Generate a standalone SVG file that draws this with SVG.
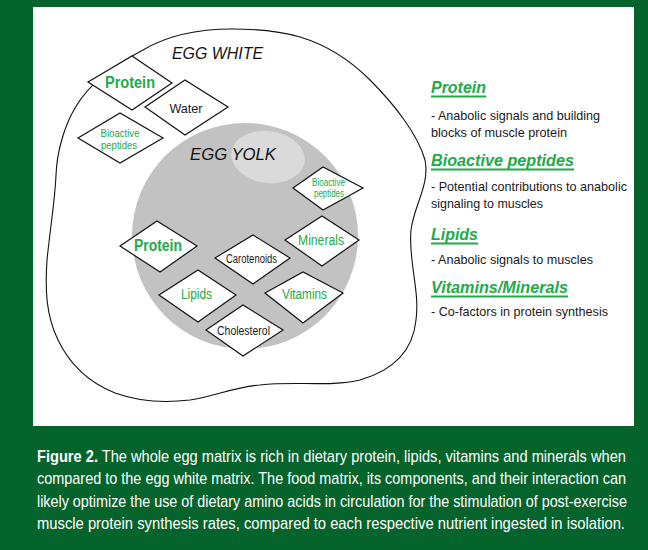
<svg xmlns="http://www.w3.org/2000/svg" width="648" height="550" viewBox="0 0 648 550">
<style>
.dia{fill:#fff;stroke:#111;stroke-width:1.2;stroke-linejoin:miter}
.g{fill:#22AA4A;font-family:"Liberation Sans",Arial,sans-serif}
.k{fill:#1a1a1a;font-family:"Liberation Sans",Arial,sans-serif}
.b{font-weight:bold}
.h{fill:#22AA4A;font-family:"Liberation Sans",Arial,sans-serif;font-weight:bold;font-style:italic;font-size:17px}
.body{fill:#1a1a1a;font-family:"Liberation Sans",Arial,sans-serif;font-size:13px}
.cap{fill:#fff;font-family:"Liberation Sans",Arial,sans-serif;font-size:16px}
.ul{stroke:#22AA4A;stroke-width:2}
.lbl{fill:#111;font-family:"Liberation Sans",Arial,sans-serif;font-style:italic;font-size:16px}
</style>
<rect x="0" y="0" width="648" height="550" fill="#05632C"/>
<rect x="33" y="7" width="601" height="419" fill="#fff"/>

<g id="egg-white">
<path d="M143,50 C170,34 200,29 232,29 C260,29 283,32 300,37 C330,46 352,62 370,80 C395,105 418,135 425,160 C430,185 414,205 411,230 C408,260 420,290 416,320 C413,350 395,370 360,380 C330,387 295,381 260,385 C235,387 215,396 190,400 C165,403 140,402 115,393 C90,383 70,365 58,340 C46,315 45,290 47,260 C50,230 55,200 56,175 C57,150 65,125 75,108 C90,82 115,65 143,50 Z" fill="none" stroke="#111" stroke-width="1.1"/>
<text class="lbl" x="172" y="59" textLength="91" lengthAdjust="spacingAndGlyphs">EGG WHITE</text>
</g>

<g id="egg-yolk">
<circle cx="245" cy="236" r="113" fill="#C2C2C2"/>
<ellipse cx="268" cy="157" rx="37" ry="26" fill="#DADADA" transform="rotate(8 268 157)"/>
<text class="lbl" x="190" y="160" textLength="86" lengthAdjust="spacingAndGlyphs">EGG YOLK</text>
</g>

<g id="white-protein">
<polygon class="dia" points="88,82 132,56 172,83 132,110"/>
<text class="g b" x="130" y="88" font-size="16" text-anchor="middle" textLength="50" lengthAdjust="spacingAndGlyphs">Protein</text>
</g>
<g id="white-water">
<polygon class="dia" points="145,107 185,80 228,107 185,135"/>
<text class="k" x="186" y="113" font-size="13" text-anchor="middle" textLength="33" lengthAdjust="spacingAndGlyphs">Water</text>
</g>
<g id="white-bioactive">
<polygon class="dia" points="78,138 120,113 163,138 120,163"/>
<text class="g" x="120" y="137" font-size="11" text-anchor="middle" textLength="39" lengthAdjust="spacingAndGlyphs">Bioactive</text>
<text class="g" x="119" y="149" font-size="11" text-anchor="middle" textLength="36" lengthAdjust="spacingAndGlyphs">peptides</text>
</g>

<g id="yolk-bioactive">
<polygon class="dia" points="293,188 323,167 363,188 323,210"/>
<text class="g" x="328.5" y="186" font-size="10" text-anchor="middle" textLength="33" lengthAdjust="spacingAndGlyphs">Bioactive</text>
<text class="g" x="329" y="197" font-size="10" text-anchor="middle" textLength="30" lengthAdjust="spacingAndGlyphs">peptides</text>
</g>
<g id="yolk-protein">
<polygon class="dia" points="120,246 157,221 197,246 160,272"/>
<text class="g b" x="158" y="251" font-size="16" text-anchor="middle" textLength="48" lengthAdjust="spacingAndGlyphs">Protein</text>
</g>
<g id="yolk-minerals">
<polygon class="dia" points="285,240 322,216 359,240 322,266"/>
<text class="g" x="321" y="245" font-size="14" text-anchor="middle" textLength="46" lengthAdjust="spacingAndGlyphs">Minerals</text>
</g>
<g id="yolk-carotenoids">
<polygon class="dia" points="215,258 253,235 290,258 253,284"/>
<text class="k" x="251.5" y="263" font-size="12" text-anchor="middle" textLength="51" lengthAdjust="spacingAndGlyphs">Carotenoids</text>
</g>
<g id="yolk-lipids">
<polygon class="dia" points="159,295 198,270 236,295 198,322"/>
<text class="g" x="196.5" y="299" font-size="14" text-anchor="middle" textLength="31" lengthAdjust="spacingAndGlyphs">Lipids</text>
</g>
<g id="yolk-vitamins">
<polygon class="dia" points="265,293 303,272 343,293 303,323"/>
<text class="g" x="304.5" y="299" font-size="14" text-anchor="middle" textLength="45" lengthAdjust="spacingAndGlyphs">Vitamins</text>
</g>
<g id="yolk-cholesterol">
<polygon class="dia" points="206,330 243,305 283,330 243,356"/>
<text class="k" x="243.5" y="335" font-size="12" text-anchor="middle" textLength="53" lengthAdjust="spacingAndGlyphs">Cholesterol</text>
</g>

<g id="legend">
<text class="h" x="431" y="93" textLength="55" lengthAdjust="spacingAndGlyphs">Protein</text>
<line class="ul" x1="431" y1="96.5" x2="486" y2="96.5"/>
<text class="body" x="431" y="120" textLength="169" lengthAdjust="spacingAndGlyphs">- Anabolic signals and building</text>
<text class="body" x="431" y="137" textLength="136" lengthAdjust="spacingAndGlyphs">blocks of muscle protein</text>

<text class="h" x="431" y="166" textLength="143" lengthAdjust="spacingAndGlyphs">Bioactive peptides</text>
<line class="ul" x1="431" y1="169.5" x2="574" y2="169.5"/>
<text class="body" x="431" y="191" textLength="196" lengthAdjust="spacingAndGlyphs">- Potential contributions to anabolic</text>
<text class="body" x="431" y="208" textLength="112" lengthAdjust="spacingAndGlyphs">signaling to muscles</text>

<text class="h" x="431" y="240" textLength="47" lengthAdjust="spacingAndGlyphs">Lipids</text>
<line class="ul" x1="431" y1="243.5" x2="478" y2="243.5"/>
<text class="body" x="431" y="264" textLength="162" lengthAdjust="spacingAndGlyphs">- Anabolic signals to muscles</text>

<text class="h" x="431" y="293" textLength="137" lengthAdjust="spacingAndGlyphs">Vitamins/Minerals</text>
<line class="ul" x1="431" y1="296.5" x2="568" y2="296.5"/>
<text class="body" x="431" y="316" textLength="177" lengthAdjust="spacingAndGlyphs">- Co-factors in protein synthesis</text>
</g>

<g id="caption" transform="translate(37,0) scale(0.83,1)">
<text class="cap" x="0" y="462" textLength="709.6" lengthAdjust="spacingAndGlyphs"><tspan font-weight="bold">Figure 2.</tspan> The whole egg matrix is rich in dietary protein, lipids, vitamins and minerals when</text>
<text class="cap" x="0" y="484.5" textLength="709.6" lengthAdjust="spacingAndGlyphs">compared to the egg white matrix. The food matrix, its components, and their interaction can</text>
<text class="cap" x="0" y="507" textLength="710.8" lengthAdjust="spacingAndGlyphs">likely optimize the use of dietary amino acids in circulation for the stimulation of post-exercise</text>
<text class="cap" x="0" y="529.5" textLength="708.4" lengthAdjust="spacingAndGlyphs">muscle protein synthesis rates, compared to each respective nutrient ingested in isolation.</text>
</g>
</svg>
